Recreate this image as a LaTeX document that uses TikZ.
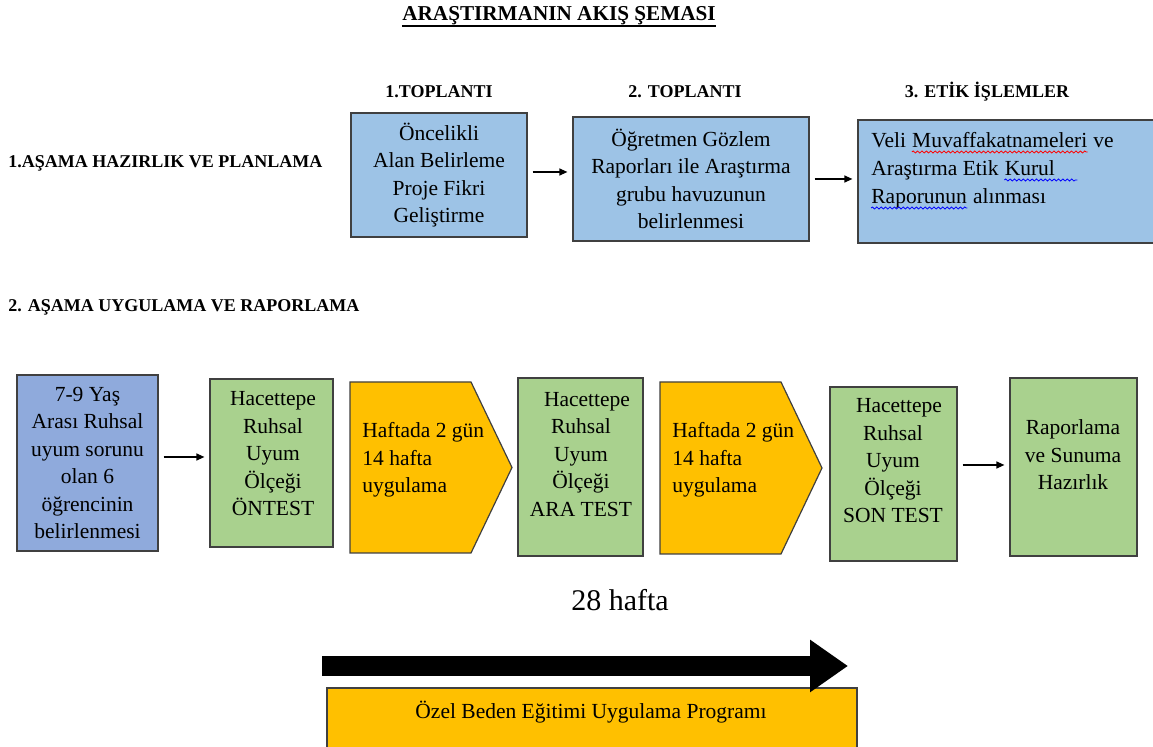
\documentclass[tikz,border=0pt]{standalone}
\usepackage{fontspec}
\setmainfont{Liberation Serif}
\usetikzlibrary{arrows.meta, positioning}
\usetikzlibrary{calc,decorations.pathmorphing}

\definecolor{acikmavi}{HTML}{9DC3E6}
\definecolor{koyumavi}{HTML}{8FAADC}
\definecolor{yesil}{HTML}{A9D18E}
\definecolor{turuncu}{HTML}{FFC000}
\definecolor{cerceve}{HTML}{404040}

\begin{document}
\begin{tikzpicture}[x=0.5pt, y=-0.5pt,
        every node/.style={font=\fontsize{10.75}{13.75}\selectfont, inner sep=0pt},
        baslik/.style={font=\fontsize{9}{11}\selectfont\bfseries},
        kutu/.style={draw=cerceve, line width=0.6pt, align=center},
        besgen/.style={draw=cerceve, line width=0.6pt, fill=turuncu, line join=miter},
        kelime/.style={anchor=base west},
        dalga/.style={line width=0.4pt, decorate, decoration={snake, amplitude=0.5pt, segment length=2.2pt}},
        ok/.style={line width=0.6pt, -{Triangle[length=4pt, width=3.5pt]}, shorten <=2.5pt, shorten >=2.5pt}
    ]
    \useasboundingbox (0,0) rectangle (1153,747);

    % Başlıklar
    \node[baslik, anchor=base, font=\fontsize{10.6}{12}\selectfont\bfseries] (baslik) at (559,21) {ARAŞTIRMANIN AKIŞ ŞEMASI};
    \draw[line width=1pt] ([yshift=-2.5pt]baslik.base west) -- ([yshift=-2.5pt]baslik.base east);
    \node[baslik, anchor=base] (B1) at (439,98) {1.TOPLANTI};
    \node[baslik, anchor=base] (B2) at (685,98) {2. TOPLANTI};
    \node[baslik, anchor=base] (B3) at (987,98) {3. ETİK İŞLEMLER};
    \node[baslik, anchor=base west] (S1) at (8,168) {1.AŞAMA HAZIRLIK VE PLANLAMA};
    \node[baslik, anchor=base west] (S2) at (8,312) {2. AŞAMA UYGULAMA VE RAPORLAMA};

    % 1. aşama
    \node[kutu, fill=acikmavi, minimum width=88pt, minimum height=62pt] (T1) at (439,175)
        {Öncelikli\\Alan Belirleme\\Proje Fikri\\Geliştirme};
    \node[kutu, fill=acikmavi, minimum width=118pt, minimum height=62pt] (T2) at (691,179)
        {Öğretmen Gözlem\\Raporları ile Araştırma\\grubu havuzunun\\belirlenmesi};
    \node[kutu, fill=acikmavi, minimum width=151pt, minimum height=61.5pt] (T3) at (1009,181.5) {};
    \node[kelime] (V1) at (871,148) {Veli\ \mbox{}};
    \node[kelime] (V2) at (V1.base east) {Muvaffakatnameleri};
    \node[kelime] (V3) at (V2.base east) {\ ve};
    \node[kelime] (V4) at (871,176) {Araştırma Etik\ \mbox{}};
    \node[kelime] (V5) at (V4.base east) {Kurul};
    \node[kelime] (V6) at (871,204) {Raporunun};
    \node[kelime] (V7) at (V6.base east) {\ alınması};
    \draw[dalga, red] ([yshift=-2pt]V2.base west) -- ([yshift=-2pt]V2.base east);
    \draw[dalga, blue] ([yshift=-2pt]V5.base west) -- ([yshift=-2pt,xshift=11pt]V5.base east);
    \draw[dalga, blue] ([yshift=-2pt]V6.base west) -- ([yshift=-2pt]V6.base east);

    \draw[ok] ([yshift=1.5pt]T1.east) -- ([yshift=1.5pt]T1.east -| T2.west);
    \draw[ok] (T2.east) -- (T2.east -| T3.west);

    % 2. aşama
    \node[kutu, fill=koyumavi, minimum width=70.5pt, minimum height=88pt] (A) at (87.5,463)
        {7-9 Yaş\\Arası Ruhsal\\uyum sorunu\\olan 6\\öğrencinin\\belirlenmesi};
    \node[kutu, fill=yesil, minimum width=61.5pt, minimum height=84pt] (On) at (271.5,463) {};
    \node[align=center] (Ony) at (273,454) {Hacettepe\\Ruhsal\\Uyum\\Ölçeği\\ÖNTEST};
    \draw[besgen] (350,382) -- (471,382) -- (512,467.5) -- (471,553) -- (350,553) -- cycle;
    \node[anchor=west, align=left] (P1y) at (362,460) {Haftada 2 gün\\14 hafta\\uygulama};
    \node[kutu, fill=yesil, minimum width=62.5pt, minimum height=89pt] (Ara) at (580.5,467) {};
    \node[align=center] (Aray) at (581,454.5) {\hspace*{6pt}Hacettepe\\Ruhsal\\Uyum\\Ölçeği\\ARA TEST};
    \draw[besgen] (660,382) -- (781,382) -- (822,468) -- (781,554) -- (660,554) -- cycle;
    \node[anchor=west, align=left] (P2y) at (672,460) {Haftada 2 gün\\14 hafta\\uygulama};
    \node[kutu, fill=yesil, minimum width=63.5pt, minimum height=87pt] (Son) at (893.5,474) {};
    \node[align=center] (Sony) at (893,461) {\hspace*{6pt}Hacettepe\\Ruhsal\\Uyum\\Ölçeği\\SON TEST};
    \node[kutu, fill=yesil, minimum width=63.5pt, minimum height=89pt] (R) at (1073.5,467) {};
    \node[align=center] (Ry) at (1073,455) {Raporlama\\ve Sunuma\\Hazırlık};

    \draw[ok] ([yshift=3pt]A.east) -- ([yshift=3pt]A.east -| On.west);
    \draw[ok] ([yshift=4.5pt]Son.east) -- ([yshift=4.5pt]Son.east -| R.west);

    % Süre oku ve program
    \node[font=\fontsize{15}{18}\selectfont] (H) at (620,600) {28 hafta};
    \node[kutu, fill=turuncu, minimum width=265pt, minimum height=36pt] (Oz) at (592,724) {};
    \node (Ozy) at (591,712) {Özel Beden Eğitimi Uygulama Programı};
    \coordinate (O1) at (322,666);
    \coordinate (O2) at (848,666);
    \draw[line width=10pt, -{Triangle[length=19pt, width=25pt]}] (O1) -- (O2);
\end{tikzpicture}
\end{document}
